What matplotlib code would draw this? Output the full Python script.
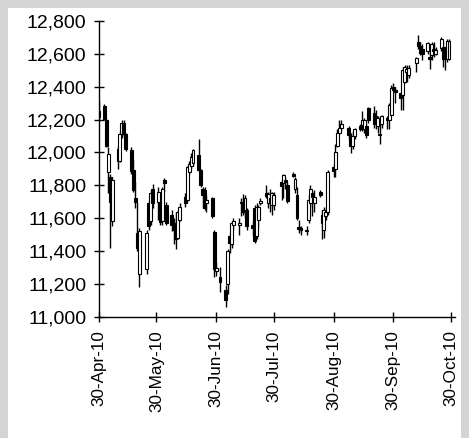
import matplotlib
matplotlib.use("Agg")
import matplotlib.pyplot as plt
import matplotlib.dates as mdates
from matplotlib.patches import Rectangle
from matplotlib.ticker import FuncFormatter, FixedLocator
import datetime as dt

plt.rcParams['font.family'] = ['Liberation Sans', 'DejaVu Sans']

dates = [
    "2010-04-30", "2010-05-03", "2010-05-04", "2010-05-05", "2010-05-06", "2010-05-07",
    "2010-05-10", "2010-05-11", "2010-05-12", "2010-05-13", "2010-05-14",
    "2010-05-17", "2010-05-18", "2010-05-19", "2010-05-20", "2010-05-21",
    "2010-05-25", "2010-05-26", "2010-05-27", "2010-05-28",
    "2010-05-31", "2010-06-01", "2010-06-02", "2010-06-03", "2010-06-04",
    "2010-06-07", "2010-06-08", "2010-06-09", "2010-06-10", "2010-06-11",
    "2010-06-14", "2010-06-15", "2010-06-16", "2010-06-17", "2010-06-18",
    "2010-06-21", "2010-06-22", "2010-06-23", "2010-06-24", "2010-06-25",
    "2010-06-28", "2010-06-29", "2010-06-30", "2010-07-02",
    "2010-07-05", "2010-07-06", "2010-07-07", "2010-07-08", "2010-07-09",
    "2010-07-12", "2010-07-13", "2010-07-14", "2010-07-15", "2010-07-16",
    "2010-07-19", "2010-07-20", "2010-07-21", "2010-07-22", "2010-07-23",
    "2010-07-26", "2010-07-27", "2010-07-28", "2010-07-29", "2010-07-30",
    "2010-08-03", "2010-08-04", "2010-08-05", "2010-08-06",
    "2010-08-09", "2010-08-10", "2010-08-11", "2010-08-12", "2010-08-13",
    "2010-08-16", "2010-08-17", "2010-08-18", "2010-08-19", "2010-08-20",
    "2010-08-23", "2010-08-24", "2010-08-25", "2010-08-26", "2010-08-27",
    "2010-08-30", "2010-08-31", "2010-09-01", "2010-09-02", "2010-09-03",
    "2010-09-07", "2010-09-08", "2010-09-09", "2010-09-10",
    "2010-09-13", "2010-09-14", "2010-09-15", "2010-09-16", "2010-09-17",
    "2010-09-20", "2010-09-21", "2010-09-22", "2010-09-23", "2010-09-24",
    "2010-09-27", "2010-09-28", "2010-09-29", "2010-09-30", "2010-10-01",
    "2010-10-04", "2010-10-05", "2010-10-06", "2010-10-07", "2010-10-08",
    "2010-10-12", "2010-10-13", "2010-10-14", "2010-10-15",
    "2010-10-18", "2010-10-19", "2010-10-20", "2010-10-21", "2010-10-22",
    "2010-10-25", "2010-10-26", "2010-10-27", "2010-10-28", "2010-10-29",
]

opens = [
    12250, 12285, 12195, 11880, 11850, 11580,
    12020, 11950, 12110, 12180, 12110,
    12015, 11890, 11720, 11510, 11260,
    11290, 11690, 11580, 11780,
    11700, 11690, 11580, 11830, 11680,
    11620, 11570, 11540, 11480, 11590,
    11730, 11710, 11880, 11915, 11935,
    11985, 11890, 11780, 11770, 11690,
    11720, 11515, 11280, 11240,
    11160, 11200, 11490, 11440, 11560,
    11560, 11700, 11700, 11640, 11650,
    11560, 11660, 11490, 11590, 11690,
    11750, 11690, 11720, 11680, 11680,
    11820, 11815, 11830, 11800,
    11870, 11780, 11740, 11545, 11540,
    11530, 11590, 11690, 11750, 11690,
    11760, 11620, 11530, 11610, 11640,
    11910, 11900, 12040, 12120, 12150,
    12150, 12100, 12040, 12100,
    12160, 12165, 12140, 12160, 12270,
    12240, 12220, 12160, 12115, 12170,
    12210, 12200, 12230, 12400, 12380,
    12360, 12350, 12430, 12490, 12470,
    12545, 12675, 12645, 12630,
    12615, 12580, 12590, 12630, 12600,
    12635, 12640, 12620, 12570, 12570,
]

highs = [
    12315, 12295, 12210, 12030, 11870, 11850,
    12040, 12130, 12200, 12195, 12120,
    12030, 11960, 11820, 11700, 11540,
    11530, 11710, 11770, 11810,
    11790, 11760, 11790, 11845, 11700,
    11650, 11600, 11640, 11650, 11690,
    11750, 11920, 11950, 11995, 12020,
    12080, 11900, 11790, 11790, 11740,
    11730, 11530, 11330, 11300,
    11190, 11410, 11510, 11580, 11600,
    11600, 11720, 11745, 11740, 11660,
    11580, 11680, 11690, 11680, 11720,
    11800, 11760, 11780, 11760, 11760,
    11830, 11870, 11850, 11820,
    11880, 11850, 11790, 11590, 11550,
    11550, 11740, 11800, 11760, 11770,
    11770, 11650, 11670, 11660, 11890,
    11930, 12050, 12140, 12200, 12200,
    12160, 12120, 12130, 12150,
    12170, 12250, 12210, 12180, 12275,
    12280, 12260, 12220, 12170, 12230,
    12220, 12300, 12410, 12420, 12400,
    12370, 12520, 12530, 12530, 12530,
    12580, 12715, 12675, 12660,
    12675, 12660, 12670, 12670, 12640,
    12700, 12680, 12640, 12690, 12690,
]

lows = [
    12190, 12195, 12030, 11750, 11420, 11550,
    11900, 11940, 12090, 12100, 12010,
    11870, 11760, 11660, 11400, 11180,
    11260, 11530, 11560, 11660,
    11590, 11560, 11560, 11760, 11560,
    11520, 11440, 11410, 11470, 11580,
    11670, 11700, 11860, 11900, 11920,
    11880, 11790, 11660, 11650, 11640,
    11600, 11240, 11250, 11150,
    11060, 11140, 11390, 11420, 11530,
    11500, 11610, 11620, 11600, 11530,
    11500, 11450, 11470, 11540, 11680,
    11720, 11660, 11640, 11620, 11650,
    11710, 11720, 11780, 11690,
    11850, 11750, 11590, 11510, 11500,
    11500, 11570, 11670, 11610, 11640,
    11730, 11470, 11480, 11590, 11620,
    11850, 11850, 12030, 12110, 12130,
    12080, 11995, 12020, 12080,
    12130, 12130, 12120, 12090, 12180,
    12150, 12140, 12120, 12050, 12150,
    12140, 12140, 12230, 12370, 12300,
    12260, 12260, 12420, 12430, 12450,
    12490, 12630, 12590, 12560,
    12600, 12510, 12560, 12580, 12590,
    12620, 12520, 12500, 12550, 12560,
]

closes = [
    12215, 12205, 12040, 11990, 11700, 11830,
    11950, 12110, 12180, 12110, 12020,
    11885, 11770, 11700, 11420, 11520,
    11510, 11550, 11750, 11690,
    11760, 11575, 11780, 11815, 11570,
    11560, 11530, 11470, 11640, 11670,
    11690, 11910, 11930, 11975, 12015,
    11890, 11800, 11740, 11660, 11710,
    11610, 11290, 11295, 11210,
    11100, 11400, 11450, 11570, 11580,
    11570, 11690, 11640, 11720, 11550,
    11540, 11460, 11670, 11665, 11705,
    11735, 11745, 11700, 11750, 11740,
    11795, 11860, 11820, 11705,
    11855, 11840, 11600, 11535, 11530,
    11520, 11710, 11780, 11730, 11730,
    11740, 11570, 11650, 11640, 11880,
    11885, 12000, 12120, 12150, 12170,
    12105, 12040, 12100, 12140,
    12145, 12200, 12195, 12105, 12195,
    12170, 12170, 12210, 12105, 12220,
    12200, 12290, 12395, 12380, 12370,
    12330, 12500, 12520, 12510, 12515,
    12575, 12645, 12605, 12600,
    12665, 12570, 12660, 12615, 12625,
    12690, 12570, 12580, 12680, 12680,
]

tick_dates = ["2010-04-30", "2010-05-30", "2010-06-30", "2010-07-30",
              "2010-08-30", "2010-09-30", "2010-10-30"]
y_ticks = [11000, 11200, 11400, 11600, 11800, 12000, 12200, 12400, 12600, 12800]

W, H = 469, 438
fig = plt.figure(figsize=(W / 100, H / 100), dpi=100)
fig.patch.set_facecolor('#d4d4d4')
fig.patches.append(Rectangle((8 / W, 0), (461 - 8) / W, (H - 8) / H,
                             transform=fig.transFigure, facecolor='white',
                             edgecolor='none', zorder=-10))

ax = fig.add_axes([98.7 / W, (H - 316.7) / H, (455 - 98.7) / W, (316.7 - 21) / H])
ax.set_facecolor('none')
ax.set_zorder(5)

x = mdates.date2num([dt.datetime.strptime(d, "%Y-%m-%d") for d in dates])
ax.vlines(x, lows, highs, color='black', linewidth=1.0, zorder=2)
up = [c >= o for o, c in zip(opens, closes)]
bottoms = [min(o, c) for o, c in zip(opens, closes)]
heights = [max(abs(c - o), 6) for o, c in zip(opens, closes)]
ax.bar(x, heights, bottom=bottoms, width=1.5,
       color=['white' if u else 'black' for u in up],
       edgecolor='black', linewidth=0.8, zorder=3)

x0 = mdates.date2num(dt.datetime(2010, 4, 30))
ax.set_xlim(x0, x0 + 185.1)
ax.set_ylim(11000, 12800)

tx = mdates.date2num([dt.datetime.strptime(d, "%Y-%m-%d") for d in tick_dates])
ax.xaxis.set_major_locator(FixedLocator(tx))
ax.xaxis.set_major_formatter(mdates.DateFormatter('%d-%b-%y'))
ax.yaxis.set_major_locator(FixedLocator(y_ticks))
ax.yaxis.set_major_formatter(FuncFormatter(lambda v, p: f"{int(v):,}"))

for s in ['top', 'right']:
    ax.spines[s].set_visible(False)
for s in ['left', 'bottom']:
    ax.spines[s].set_color('black')
    ax.spines[s].set_linewidth(1.0)

ax.tick_params(axis='y', direction='inout', length=7.5, width=1.0,
               labelsize=14, pad=5, colors='black')
ax.tick_params(axis='x', direction='inout', length=7.5, width=1.0,
               labelsize=12.3, pad=6, colors='black', labelrotation=90)
for lab in ax.get_xticklabels():
    lab.set_verticalalignment('top')
    lab.set_horizontalalignment('center')

fig.savefig("out.png", dpi=100, facecolor=fig.get_facecolor())
